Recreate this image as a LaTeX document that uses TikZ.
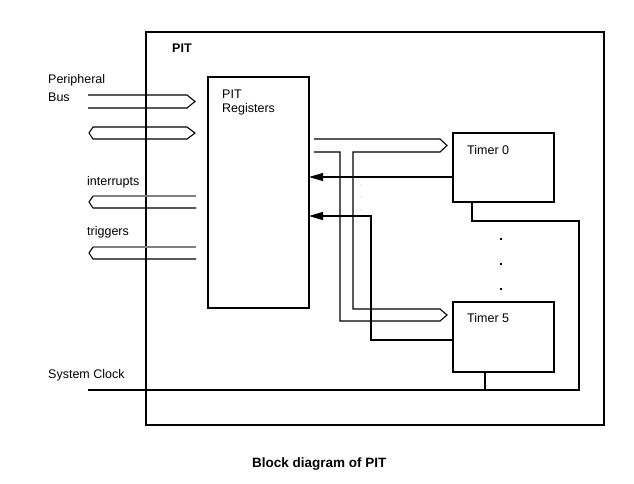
\documentclass[tikz,border=0pt]{standalone}
\usepackage{fontspec}
\setmainfont{Liberation Sans}
\usetikzlibrary{arrows.meta}

\tikzset{
  blk/.style={draw, line width=1.1pt, inner sep=0pt, outer sep=0pt, anchor=north west},
  lbl/.style={font=\fontsize{12.5}{14}\selectfont, inner sep=0pt, anchor=base west},
  wire/.style={line width=1.1pt},
  bus/.style={line width=1.1pt, line join=miter},
  inarrow/.style={-{Triangle[length=14pt,width=8pt]}}
}

\begin{document}
\begin{tikzpicture}[x=1pt,y=-1pt]
        \useasboundingbox (0,0) rectangle (634,483);

        % blocks
        \node[blk, minimum width=458pt, minimum height=393pt] (pit) at (146,32) {};
        \node[blk, minimum width=101pt, minimum height=231pt] (regs) at (208,77) {};
        \node[blk, minimum width=101pt, minimum height=69pt] (timer0) at (453,133) {};
        \node[blk, minimum width=101pt, minimum height=70pt] (timer5) at (453,302) {};

        % texts
        \node[lbl] (pitlbl) at (172,52) {\textbf{PIT}};
        \node[lbl] (regs1) at (222,98) {PIT};
        \node[lbl] (regs2) at (222,112) {Registers};
        \node[lbl] (t0lbl) at (467,154) {Timer 0};
        \node[lbl] (t5lbl) at (467,322) {Timer 5};
        \node[lbl] (per) at (48,83) {Peripheral};
        \node[lbl] (buslbl) at (48,101) {Bus};
        \node[lbl] (intlbl) at (87,185) {interrupts};
        \node[lbl] (trglbl) at (87,235) {triggers};
        \node[lbl] (clklbl) at (48,378) {System Clock};
        \node[lbl, font=\fontsize{13.5}{15}\selectfont\bfseries] (title) at (252,467) {Block diagram of PIT};

        % peripheral bus
        \draw[bus] (88,95) -- (187,95) -- (195,101.5) -- (187,108) -- (88,108);
        \draw[bus] (93,127) -- (187,127) -- (195,133) -- (187,139) -- (93,139) -- (89,133) -- cycle;

        % interrupts and triggers
        \draw[bus, gray] (196,196) -- (93,196);
        \draw[bus] (93,196) -- (89,202) -- (93,208) -- (196,208);
        \draw[bus, gray] (196,247) -- (93,247);
        \draw[bus] (93,247) -- (89,253) -- (93,259) -- (196,259);

        % bus to the timers
        \draw[bus] (314,139) -- (440,139) -- (447,145.5) -- (440,152) -- (353,152) -- (353,309)
                -- (440,309) -- (447,315) -- (440,321) -- (340,321) -- (340,152) -- (314,152);
        \foreach \y in {185,197,210}
            \fill[gray!60] (361,\y) circle (0.6);

        % timer outputs
        \draw[wire,inarrow] (timer0.west |- 0,177) -- (regs.east |- 0,177);
        \draw[wire,inarrow] (timer5.west |- 0,340) -- (371,340) -- (371,216) -- (regs.east |- 0,216);

        % system clock
        \coordinate (clk) at (88,390);
        \draw[wire] (472,0 |- timer0.south) -- (472,221) -- (579,221) -- (579,390) -- (clk);
        \draw[wire] (485,0 |- timer5.south) -- (485,390);

        \foreach \y in {239,264,289}
            \fill (500,\y-1) rectangle (502,\y+1);
    \end{tikzpicture}
\end{document}
